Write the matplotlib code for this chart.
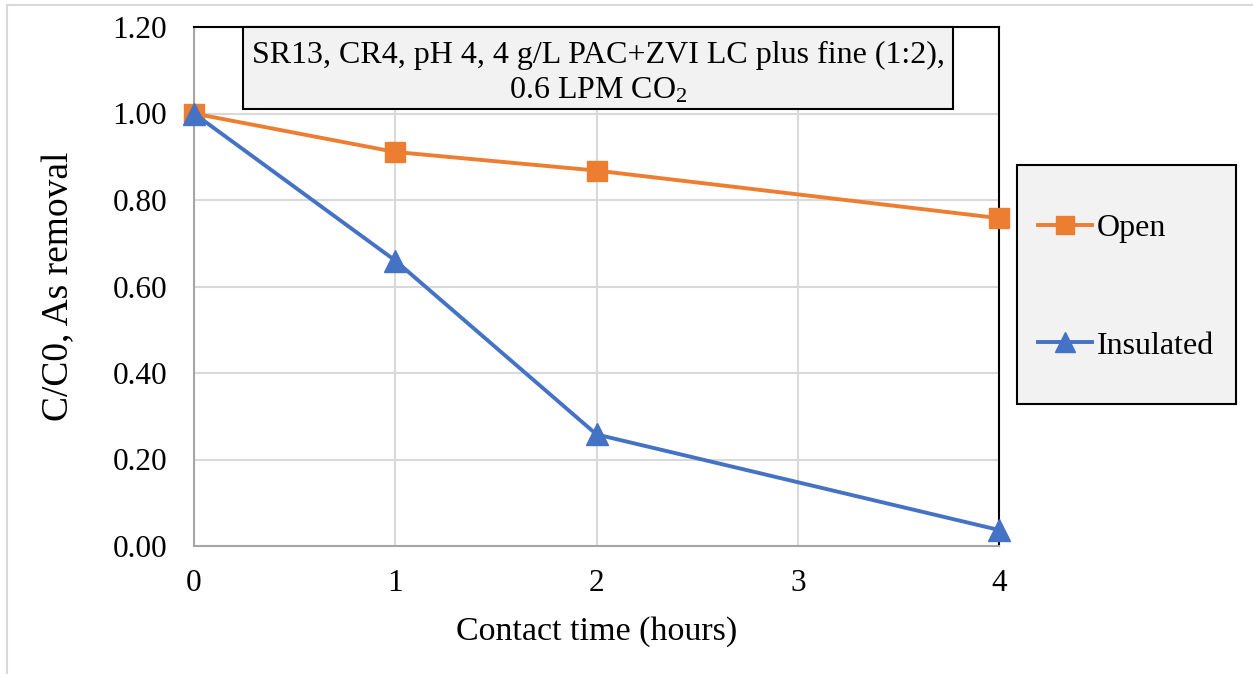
import matplotlib
matplotlib.use("Agg")
import matplotlib.pyplot as plt
from matplotlib.patches import Rectangle
from matplotlib.lines import Line2D

plt.rcParams['font.family'] = ['Liberation Serif', 'DejaVu Serif']
plt.rcParams['mathtext.fontset'] = 'custom'
plt.rcParams['mathtext.rm'] = 'Liberation Serif'
plt.rcParams['mathtext.it'] = 'Liberation Serif:italic'

# Contact time (hours) and normalised arsenic concentration C/C0
hours = [0, 1, 2, 4]
open_vals = [1.00, 0.911, 0.868, 0.758]
insulated_vals = [1.00, 0.66, 0.258, 0.037]
series_names = ["Open", "Insulated"]
x_ticks = [0, 1, 2, 3, 4]
y_ticks = [0.0, 0.2, 0.4, 0.6, 0.8, 1.0, 1.2]
box_text = "SR13, CR4, pH 4, 4 g/L PAC+ZVI LC plus fine (1:2),\n0.6 LPM CO$_2$"

ORANGE = "#ED7D31"
BLUE = "#4472C4"

W, H = 1253, 674
fig = plt.figure(figsize=(W / 100, H / 100), dpi=100)

# light outer frame (top and left edges)
fig.add_artist(Line2D([7 / W, 1.0], [(H - 5) / H, (H - 5) / H], transform=fig.transFigure,
                      color="#D9D9D9", lw=1.5, zorder=0))
fig.add_artist(Line2D([7 / W, 7 / W], [0.0, (H - 5) / H], transform=fig.transFigure,
                      color="#D9D9D9", lw=1.5, zorder=0))

ax = fig.add_axes([194 / W, (H - 546) / H, (999 - 194) / W, (546 - 27) / H])

ax.plot(hours, open_vals, color=ORANGE, lw=2.8, marker="s", ms=13.7,
        mec=ORANGE, mfc=ORANGE, label=series_names[0], zorder=4, clip_on=False)
ax.plot(hours, insulated_vals, color=BLUE, lw=2.8, marker="^", ms=16.5,
        mec=BLUE, mfc=BLUE, label=series_names[1], zorder=5, clip_on=False)

ax.set_xlim(0, 4)
ax.set_ylim(0, 1.2)
ax.set_xticks(x_ticks)
ax.set_xticklabels([str(t) for t in x_ticks])
ax.set_yticks(y_ticks)
ax.set_yticklabels([f"{t:.2f}" for t in y_ticks])
ax.tick_params(axis="both", length=0, labelsize=22.5, colors="black")
ax.tick_params(axis="y", pad=19.5)
ax.tick_params(axis="x", pad=16.5)

ax.grid(True, color="#D9D9D9", lw=1.5, zorder=0)
ax.set_axisbelow(True)

for side in ("left", "bottom"):
    ax.spines[side].set_color("#A6A6A6")
    ax.spines[side].set_linewidth(1.5)
for side in ("top", "right"):
    ax.spines[side].set_color("black")
    ax.spines[side].set_linewidth(1.5)

ax.set_xlabel("Contact time (hours)", fontsize=24.5, labelpad=13)
ax.set_ylabel("C/C0, As removal", fontsize=27, labelpad=26)

# annotation box with run conditions
x0 = (243 - 194) / (999 - 194)
x1 = (953 - 194) / (999 - 194)
yb = (546 - 109) / (546 - 27)
ax.add_patch(Rectangle((x0, yb), x1 - x0, 1 - yb, transform=ax.transAxes,
                       facecolor="#F2F2F2", edgecolor="black", lw=1.5, zorder=6,
                       clip_on=False))
ax.text((x0 + x1) / 2, (546 - 73) / (546 - 27), box_text, transform=ax.transAxes,
        ha="center", va="center", fontsize=23, linespacing=1.25, zorder=7)

# legend frame and entries
fig.patches.append(Rectangle((1017 / W, (H - 404) / H), (1236 - 1017) / W, (404 - 165) / H,
                             transform=fig.transFigure, facecolor="#F2F2F2",
                             edgecolor="black", lw=1.5, zorder=1))
handles = [
    Line2D([], [], color=ORANGE, lw=2.8, marker="s", ms=13.5, mfc=ORANGE, mec=ORANGE),
    Line2D([], [], color=BLUE, lw=2.8, marker="^", ms=14, mfc=BLUE, mec=BLUE),
]
leg = fig.legend(handles, series_names, loc="upper left",
                 bbox_to_anchor=(1038 / W, (H - 214) / H), frameon=False,
                 fontsize=23, handlelength=1.7, handletextpad=0.15,
                 labelspacing=2.75, borderpad=0, borderaxespad=0)
leg.set_zorder(3)

fig.savefig("out.png", dpi=100, facecolor="white")
